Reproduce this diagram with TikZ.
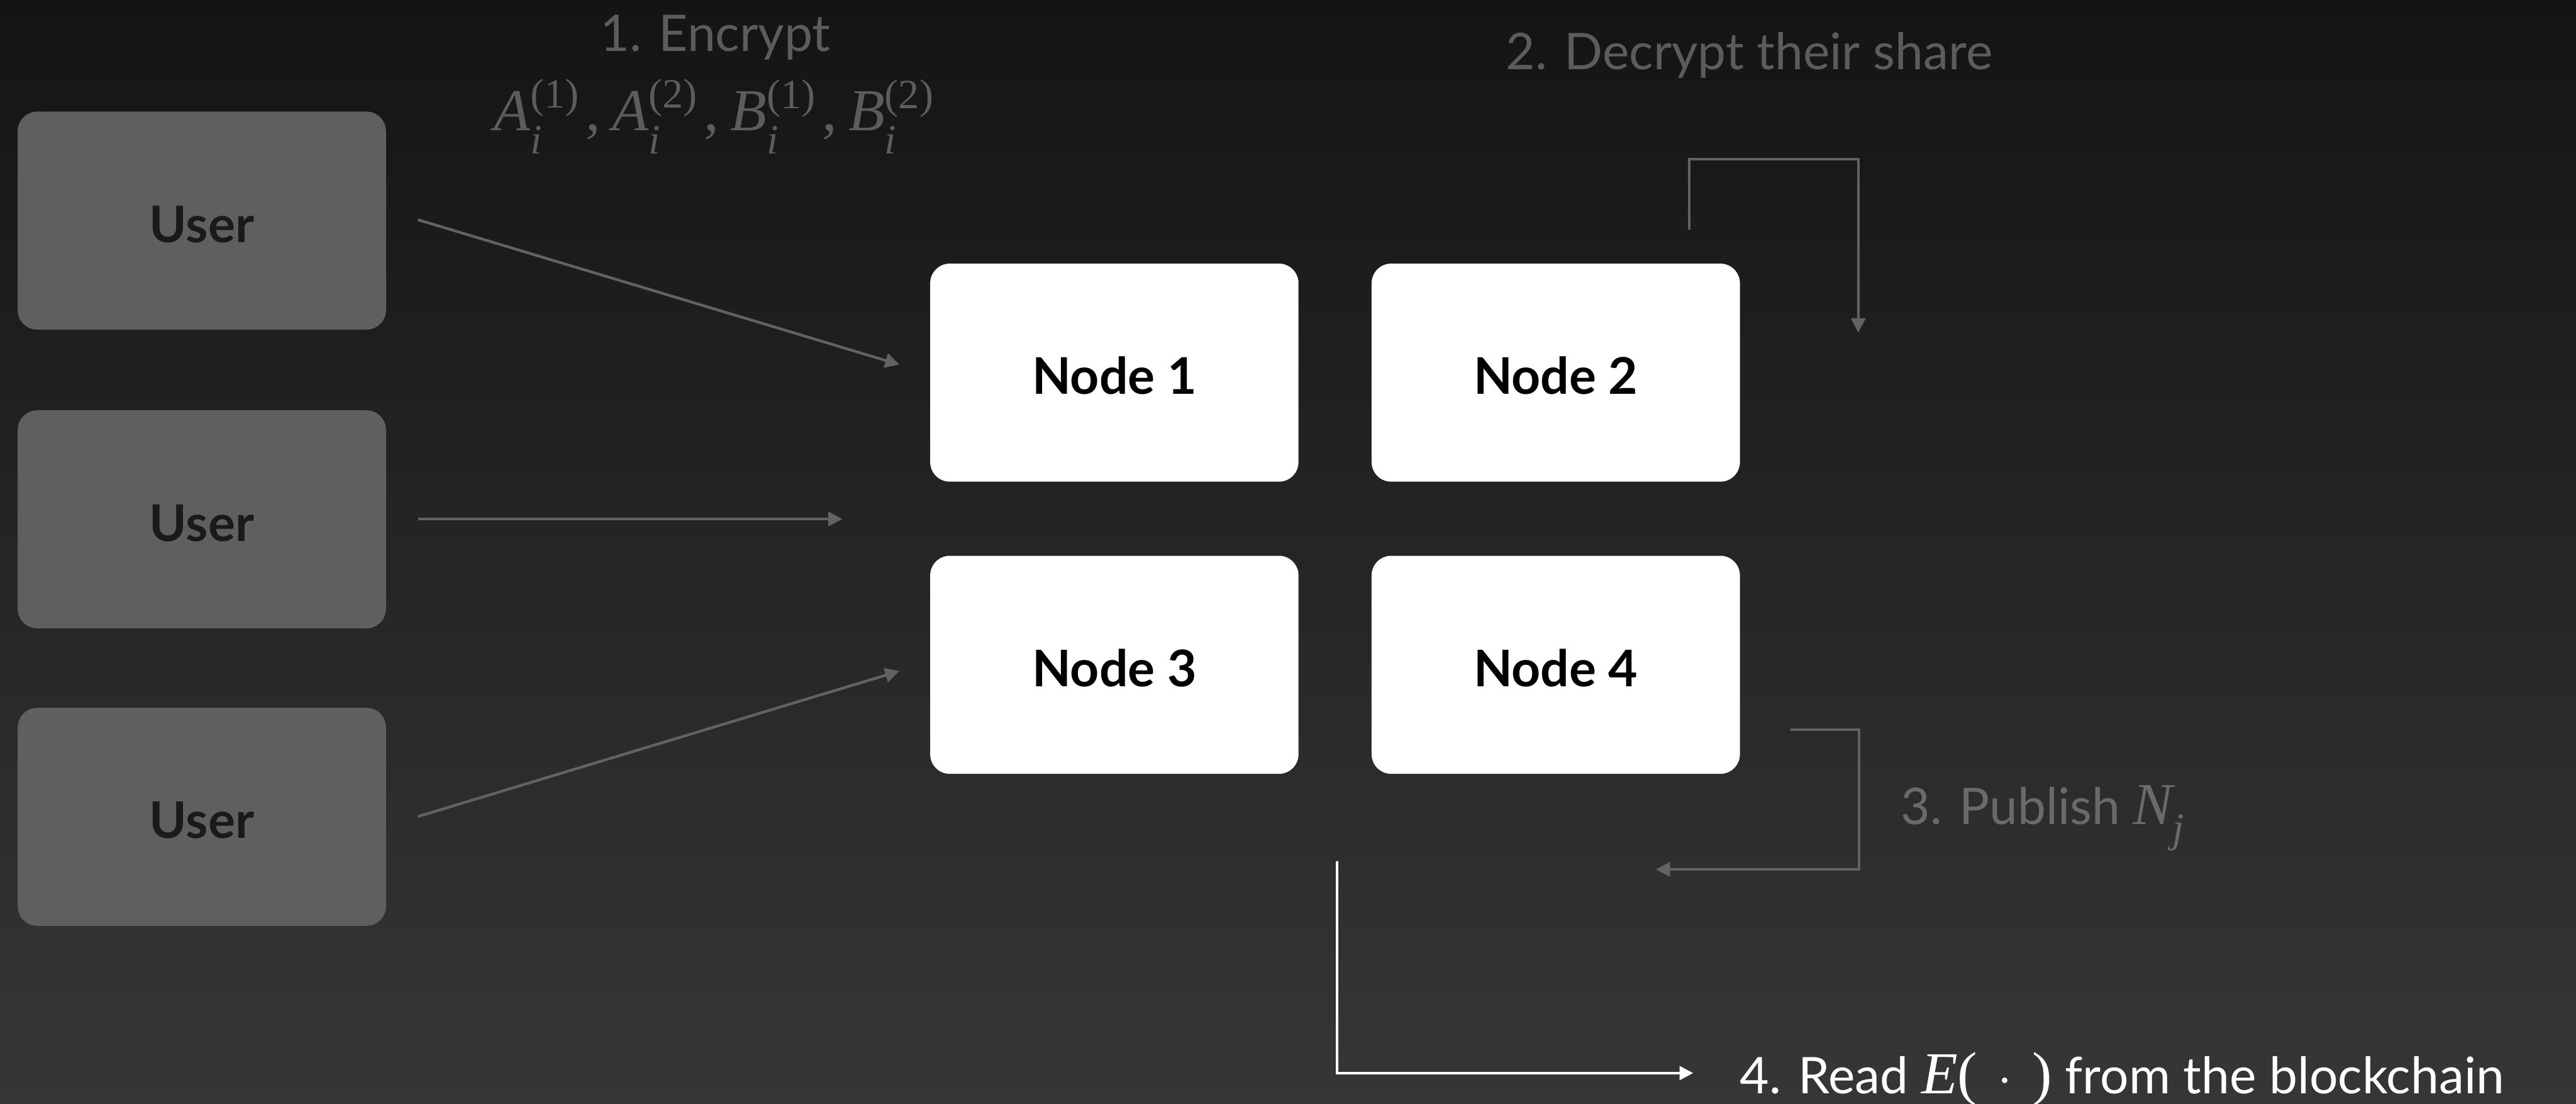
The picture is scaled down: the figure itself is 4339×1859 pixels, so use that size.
\documentclass[tikz,border=0pt]{standalone}
\usepackage{amsmath}
\usepackage{fontspec}
\setmainfont{Lato}
\newfontfamily\serifmath{Liberation Serif}
\usetikzlibrary{arrows.meta}

\definecolor{bgtop}{HTML}{141414}
\definecolor{bgbottom}{HTML}{363636}
\definecolor{userfill}{HTML}{5F5F5F}
\definecolor{usertext}{HTML}{1A1A1A}
\definecolor{linegray}{HTML}{626262}
\definecolor{stepgray}{HTML}{5C5C5C}
\definecolor{stepgraylight}{HTML}{6A6A6A}

\newcommand\labelsize{\fontsize{24.2}{29}\selectfont}
\newcommand\mathsize{\fontsize{28.5}{34}\selectfont}
% Times-like symbols inside formulas
\newcommand\mi[1]{\text{\serifmath\itshape #1}}
\newcommand\mr[1]{\text{\serifmath #1}}
% lowered italic subscript
\newcommand\msub[1]{\text{\raisebox{-0.17cm}{\serifmath\itshape #1}}}
% comma with loose spacing
\newcommand\mcomma{\mkern2mu\mr{,}\mkern4mu}

\tikzset{
  box/.style={rectangle, rounded corners=0.33cm, inner sep=0pt,
    minimum width=6.2cm, minimum height=3.67cm, text height=0.73cm,
    text depth=0pt, font=\labelsize\bfseries},
  userbox/.style={box, fill=userfill, text=usertext},
  nodebox/.style={box, fill=white, text=black},
  steplabel/.style={inner sep=0pt, font=\labelsize},
  flow/.style={draw=linegray, line width=1.3pt,
    -{Triangle[length=0.24cm,width=0.24cm]}},
  readflow/.style={draw=white, line width=1.3pt,
    -{Triangle[length=0.23cm,width=0.23cm]}}
}

\begin{document}
\begin{tikzpicture}[x=0.01cm, y=-0.01cm]
  % background
  \shade[top color=bgtop, bottom color=bgbottom] (0,0) rectangle (4339,1859);
  \useasboundingbox (0,0) rectangle (4339,1859);

  % users
  \node[userbox] (u1) at (340,371.5) {User};
  \node[userbox] (u2) at (340,874.5) {User};
  \node[userbox] (u3) at (340,1375.5) {User};

  % nodes
  \node[nodebox] (n1) at (1877,627.5) {Node 1};
  \node[nodebox] (n2) at (2620.5,627.5) {Node 2};
  \node[nodebox] (n3) at (1877,1119.5) {Node 3};
  \node[nodebox] (n4) at (2620.5,1119.5) {Node 4};

  % step labels
  \node[steplabel, text=stepgray, anchor=base] (s1) at (1205,86) {1. Encrypt};
  \node[steplabel, text=stepgray, anchor=base] (s1m) at (1203,220)
    {\mathsize $\mi{A}_{\msub{i}}^{\mr{(1)}}\mcomma\mi{A}_{\msub{i}}^{\mr{(2)}}\mcomma
      \mi{B}_{\msub{i}}^{\mr{(1)}}\mcomma\mi{B}_{\msub{i}}^{\mr{(2)}}$};
  \node[steplabel, text=stepgray, anchor=base west] (s2) at (2536,117)
    {2. Decrypt their share};
  \node[steplabel, text=stepgraylight, anchor=base west] (s3) at (3201,1388)
    {3. Publish {\mathsize $\mi{N}_{\msub{j}}$}};
  \node[steplabel, text=white, anchor=base west] (s4) at (2930,1842)
    {4. Read {\mathsize $\mi{E}\mr{(}\,\cdot\,\mr{)}$} from the blockchain};

  % connector end points
  \coordinate (e1a) at (704,370);
  \coordinate (e1b) at (1515,614);
  \coordinate (e2a) at (704,874);
  \coordinate (e2b) at (1419,874);
  \coordinate (e3a) at (704,1375);
  \coordinate (e3b) at (1515,1130);
  \coordinate (d0) at (2845,387);
  \coordinate (dc) at (3130,268);
  \coordinate (d1) at (3130,560);
  \coordinate (p0) at (3016,1229);
  \coordinate (pc) at (3131,1464);
  \coordinate (p1) at (2789,1464);
  \coordinate (r0) at (2252,1450);
  \coordinate (r1) at (2852,1807);

  % step 1: users send encrypted shares
  \draw[flow] (e1a) -- (e1b);
  \draw[flow] (e2a) -- (e2b);
  \draw[flow] (e3a) -- (e3b);

  % step 2: decrypt loop
  \draw[flow] (d0) |- (dc) -- (d1);

  % step 3: publish loop
  \draw[flow] (p0) -| (pc) -- (p1);

  % step 4: read from the chain
  \draw[readflow] (r0) |- (r1);
\end{tikzpicture}
\end{document}
